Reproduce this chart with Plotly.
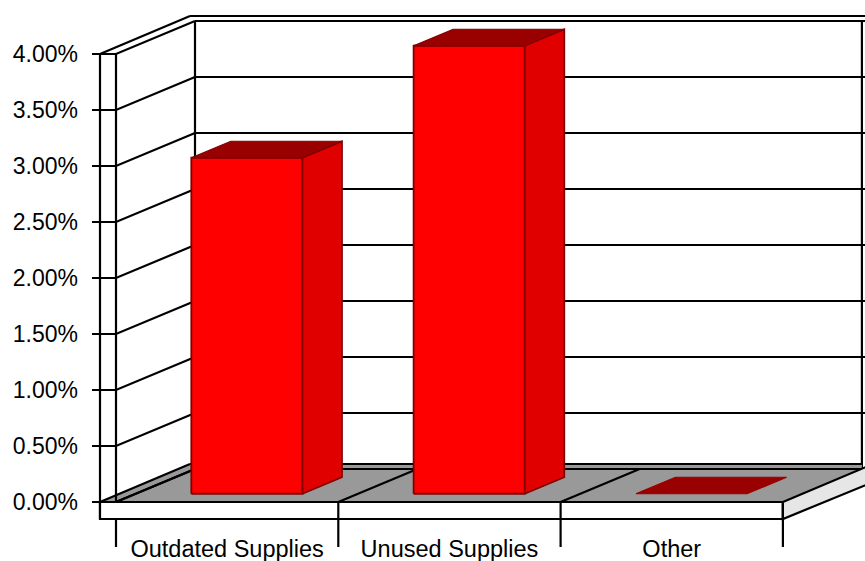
import plotly.graph_objects as go

# ---- data ----
categories = ["Outdated Supplies", "Unused Supplies", "Other"]
values = [0.03, 0.04, 0.0]
y_ticks = [0.0, 0.005, 0.01, 0.015, 0.02, 0.025, 0.03, 0.035, 0.04]

# ---- geometry (data units: x = category units, y = value units) ----
PX_PER_CAT = 222.3
PX_PER_VAL = 11200.0
W, H = 865, 561
PLOT_L, PLOT_B = 92, 14           # margins in px
FRONT_X0_PX, FRONT_Y0_PX = 116, 502

X_MIN = (PLOT_L - FRONT_X0_PX) / PX_PER_CAT
X_MAX = (W - FRONT_X0_PX) / PX_PER_CAT
Y_MIN = (FRONT_Y0_PX - (H - PLOT_B)) / PX_PER_VAL
Y_MAX = FRONT_Y0_PX / PX_PER_VAL

DX, DY = 79 / PX_PER_CAT, 33 / PX_PER_VAL          # depth of chart
DXo, DYo = 90 / PX_PER_CAT, 38 / PX_PER_VAL        # outer depth (wall thickness)
WX = -16 / PX_PER_CAT                               # outer left wall front x
FT = 17 / PX_PER_VAL                                # floor thickness
NCAT = len(categories)
VMAX = max(y_ticks)

BLACK = "#000000"
LW = 2.2

fig = go.Figure()


def poly(xs, ys, fill, line_color=BLACK, lw=LW):
    fig.add_trace(go.Scatter(x=list(xs) + [xs[0]], y=list(ys) + [ys[0]], mode="lines",
                             fill="toself", fillcolor=fill,
                             line=dict(color=line_color, width=lw),
                             hoverinfo="skip", showlegend=False))


def line(xs, ys, color=BLACK, lw=LW):
    fig.add_trace(go.Scatter(x=xs, y=ys, mode="lines", line=dict(color=color, width=lw),
                             hoverinfo="skip", showlegend=False))


# back wall gridlines
for v in y_ticks:
    line([DX, X_MAX + 0.05], [v + DY, v + DY])
# back wall outer top
line([WX + DXo, X_MAX + 0.05], [VMAX + DYo, VMAX + DYo])
# back wall verticals
line([DX, DX], [DY, VMAX + DY])
line([NCAT + DX, NCAT + DX], [DY, VMAX + DY])

# floor top (gray)
poly([WX, NCAT, NCAT + DX, NCAT + DX, WX + DXo],
     [0, 0, DY, DYo, DYo], "#999999", lw=0.1, line_color="#999999")
line([WX + DXo, NCAT + DX], [DYo, DYo])
line([DX, NCAT + DX], [DY, DY])
line([WX, WX + DXo], [0, DYo])
line([0, DX], [0, DY])
for i in range(1, NCAT):
    line([i, i + DX], [0, DY])

# left wall gridlines + ticks
for v in y_ticks:
    line([X_MIN, 0, DX], [v, v, v + DY])
line([WX, WX + DXo], [VMAX, VMAX + DYo])
line([WX, WX], [VMAX, -FT])
line([0, 0], [VMAX, Y_MIN])

# floor front face and right side face
poly([WX, NCAT, NCAT, WX], [0, 0, -FT, -FT], "#ffffff")
poly([NCAT, NCAT + DXo + 0.05, NCAT + DXo + 0.05, NCAT],
     [0, DYo + 0.05 * DYo / DXo, DYo - FT * 0.8, -FT], "#e6e6e6")
for i in range(1, NCAT + 1):
    line([i, i], [0, Y_MIN])

# bars
FRONT_C = "#ff0000"
SIDE_C = "#e00000"
TOP_C = "#990000"
EDGE_C = "#800000"
for i, v in enumerate(values):
    x0 = i + 0.25 + 0.25 * DX
    x1 = i + 0.75 + 0.25 * DX
    b = 0.25 * DY
    t = v + 0.25 * DY
    ddx, ddy = 0.5 * DX, 0.5 * DY
    if v > 0:
        poly([x0, x1, x1, x0], [b, b, t, t], FRONT_C, EDGE_C, 1.8)
        poly([x1, x1 + ddx, x1 + ddx, x1], [b, b + ddy, t + ddy, t], SIDE_C, EDGE_C, 1.8)
    poly([x0, x1, x1 + ddx, x0 + ddx], [t, t, t + ddy, t + ddy], TOP_C,
         EDGE_C if v > 0 else TOP_C, 1.2)

FONT = dict(family="Liberation Sans, Arial, sans-serif", size=23, color=BLACK)

fig.update_layout(
    width=W, height=H,
    margin=dict(l=PLOT_L, r=0, t=0, b=PLOT_B, pad=0),
    paper_bgcolor="#ffffff", plot_bgcolor="#ffffff",
    showlegend=False,
    xaxis=dict(range=[X_MIN, X_MAX], tickvals=[i + 0.5 for i in range(NCAT)],
               ticktext=categories, ticks="", showgrid=False, zeroline=False,
               showline=False, tickfont=dict(FONT, size=23.5), ticklabelstandoff=-15,
               fixedrange=True),
    yaxis=dict(range=[Y_MIN, Y_MAX], tickvals=y_ticks, tickformat=".2%", ticks="",
               showgrid=False, zeroline=False, showline=False, tickfont=FONT,
               ticklabelstandoff=13, fixedrange=True),
)

fig.write_html("out.html")
